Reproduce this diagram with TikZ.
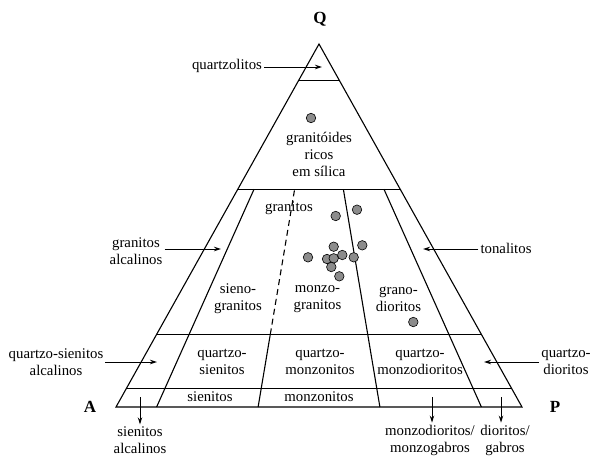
\documentclass[tikz,border=0pt]{standalone}
\usepackage{fontspec}
\setmainfont{Liberation Serif}
\usetikzlibrary{calc,arrows.meta}
\definecolor{dotgray}{RGB}{140,140,140}
\begin{document}
\begin{tikzpicture}[x=1pt,y=-1pt,
  fieldline/.style={line width=1.1pt, line join=miter},
  arr/.style={line width=1pt, -{Stealth[length=7pt,width=4.5pt]}},
  lbl/.style={font=\fontsize{14.8}{17}\selectfont, align=center, inner sep=2pt},
  corner/.style={font=\fontsize{17}{20}\selectfont\bfseries, inner sep=0pt},
  sample/.style={circle, draw=black, line width=0.6pt, fill=dotgray, minimum size=9.5pt, inner sep=0pt}]
\useasboundingbox (0,0) rectangle (593,456);
% corners
\coordinate (A) at (116,407);
\coordinate (P) at (522,407);
\coordinate (Q) at (319,44);
% base points of P/(A+P) lines
\coordinate (b10) at ($(A)!0.10!(P)$);
\coordinate (b35) at ($(A)!0.35!(P)$);
\coordinate (b65) at ($(A)!0.65!(P)$);
\coordinate (b90) at ($(A)!0.90!(P)$);
% Q levels on edges
\foreach \q/\n in {0.9/90,0.6/60,0.2/20,0.05/05}{
  \coordinate (l\n) at ($(A)!\q!(Q)$);
  \coordinate (r\n) at ($(P)!\q!(Q)$);
}
% radial points at Q=60
\coordinate (c10) at ($(b10)!0.6!(Q)$);
\coordinate (c35) at ($(b35)!0.6!(Q)$);
\coordinate (c65) at ($(b65)!0.6!(Q)$);
\coordinate (c90) at ($(b90)!0.6!(Q)$);
\coordinate (d35) at ($(b35)!0.2!(Q)$);
% frame and fields
\draw[fieldline] (A) -- (P) -- (Q) -- cycle;
\draw[fieldline] (l90) -- (r90);
\draw[fieldline] (l60) -- (r60);
\draw[fieldline] (l20) -- (r20);
\draw[fieldline] (l05) -- (r05);
\draw[fieldline] (b10) -- (c10);
\draw[fieldline] (b65) -- (c65);
\draw[fieldline] (b90) -- (c90);
\draw[fieldline] (b35) -- (d35);
\draw[fieldline, dash pattern=on 6pt off 4pt] (d35) -- (c35);
% corner labels
\node[corner] (lQ) at (320,19) {Q};
\node[corner] (lA) at (90,407) {A};
\node[corner] (lP) at (555,407) {P};
% field labels
\node[lbl] (gr) at (319,154) {granitóides\\ricos\\em sílica};
\node[lbl] (gra) at (289,208) {granitos};
\node[lbl] (sg) at (238,299) {sieno-\\granitos};
\node[lbl] (mg) at (317.5,299) {monzo-\\granitos};
\node[lbl] (gd) at (398.5,299) {grano-\\dioritos};
\node[lbl] (qs) at (222,362) {quartzo-\\sienitos};
\node[lbl] (qm) at (320,362) {quartzo-\\monzonitos};
\node[lbl] (qmd) at (420,362) {quartzo-\\monzodioritos};
\node[lbl] (si) at (210,397) {sienitos};
\node[lbl] (mo) at (319,397) {monzonitos};
% outside labels
\node[lbl] (qz) at (227,66) {quartzolitos};
\node[lbl] (ga) at (136,251) {granitos\\alcalinos};
\node[lbl] (to) at (506,248) {tonalitos};
\node[lbl] (qsa) at (56,362) {quartzo-sienitos\\alcalinos};
\node[lbl] (qd) at (566,362) {quartzo-\\dioritos};
\node[lbl] (sa) at (140,440) {sienitos\\alcalinos};
\node[lbl] (mdg) at (430,440) {monzodioritos/\\monzogabros};
\node[lbl] (dg) at (505,440) {dioritos/\\gabros};
% arrow targets
\coordinate (tqz) at (322,67);
\coordinate (tga) at (221,249);
\coordinate (tto) at (423,249);
\coordinate (tqsa) at (157,362);
\coordinate (tqd) at (484,362);
\coordinate (ssa) at (140,397);
\coordinate (smdg) at (432,397);
\coordinate (sdg) at (501,397);
% arrows
\draw[arr] (qz.east |- tqz) -- (tqz);
\draw[arr] (ga.east |- tga) -- (tga);
\draw[arr] (to.west |- tto) -- (tto);
\draw[arr] (qsa.east |- tqsa) -- (tqsa);
\draw[arr] (qd.west |- tqd) -- (tqd);
\draw[arr] (ssa) -- (ssa |- sa.north);
\draw[arr] (smdg) -- (smdg |- mdg.north);
\draw[arr] (sdg) -- (sdg |- dg.north);
% samples
\foreach \x/\y [count=\i] in {311/118, 335.7/216, 357/209.7, 333.7/246.7, 362.3/245.3,
  308/257.3, 327/259, 333.7/258.3, 342.3/255, 353.7/257.3, 331.3/267, 339.3/276.3, 413.3/322}
  \node[sample] (s\i) at (\x,\y) {};
\end{tikzpicture}
\end{document}
